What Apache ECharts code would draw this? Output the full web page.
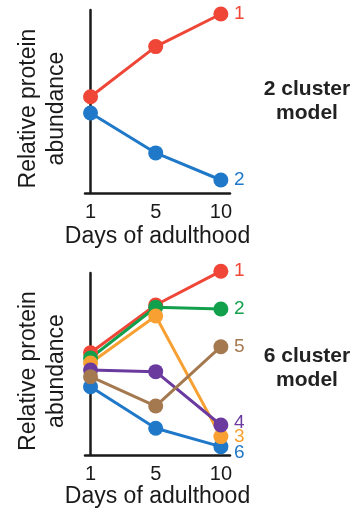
<!DOCTYPE html>
<html>
<head>
<meta charset="utf-8">
<script src="https://cdn.jsdelivr.net/npm/echarts@6/dist/echarts.min.js"></script>
<style>
  html, body { margin: 0; padding: 0; background: #fff; }
  #chart { width: 356px; height: 513px; }
</style>
</head>
<body>
<div id="chart"></div>
<script>
// Time points (days of adulthood), drawn at equal spacing
const days = ['1', '5', '10'];

// 2 cluster model: relative abundance per cluster
const twoCluster1 = [5.26, 8.0, 9.78];
const twoCluster2 = [4.37, 2.19, 0.71];

// 6 cluster model: relative abundance per cluster
const sixCluster1 = [5.62, 8.24, 10.1];
const sixCluster2 = [5.33, 8.12, 8.02];
const sixCluster3 = [5.05, 7.64, 1.01];
const sixCluster4 = [4.67, 4.58, 1.65];
const sixCluster5 = [4.30, 2.69, 5.95];
const sixCluster6 = [3.75, 1.47, 0.46];

const colors = {
  red: '#ef4637',
  blue: '#1f78c8',
  green: '#13a04c',
  orange: '#f8a031',
  purple: '#6a3a9f',
  brown: '#a5794f'
};

const FONT = "'Liberation Sans', Arial, Helvetica, sans-serif";
const axisColor = '#1a1a1a';

function xAxisFor(gridIndex, nameGap) {
  return {
    gridIndex,
    type: 'value',
    min: -0.085,
    max: 2.14,
    name: 'Days of adulthood',
    nameLocation: 'middle',
    nameGap,
    nameTextStyle: { fontFamily: FONT, fontSize: 23, color: '#1a1a1a' },
    axisLine: { show: true, lineStyle: { color: axisColor, width: 2.5 } },
    axisTick: { show: false },
    splitLine: { show: false },
    axisLabel: {
      customValues: [0, 1, 2],
      formatter: v => days[Math.round(v)],
      fontFamily: FONT, fontSize: 20, color: '#1a1a1a', margin: 9
    }
  };
}

function yAxisFor(gridIndex) {
  return {
    gridIndex,
    type: 'value',
    min: 0,
    max: 10,
    name: 'Relative protein\nabundance',
    nameLocation: 'middle',
    nameRotate: 90,
    nameGap: 14,
    nameTextStyle: {
      fontFamily: FONT, fontSize: 23, lineHeight: 28, color: '#1a1a1a',
      padding: [0, 14, 0, 0]
    },
    axisLine: { show: true, lineStyle: { color: axisColor, width: 2.5 } },
    axisTick: { show: false },
    axisLabel: { show: false },
    splitLine: { show: false }
  };
}

function lineSeries(name, values, color, axisIndex, labelOffset) {
  return {
    type: 'line',
    name,
    xAxisIndex: axisIndex,
    yAxisIndex: axisIndex,
    data: values.map((v, i) => [i, v]),
    symbol: 'circle',
    symbolSize: 15,
    clip: false,
    itemStyle: { color },
    lineStyle: { color, width: 3 },
    endLabel: {
      show: true,
      formatter: name,
      color,
      fontFamily: FONT,
      fontSize: 19,
      distance: 13,
      offset: labelOffset || [0, 0]
    },
    emphasis: { disabled: true },
    animation: false
  };
}

const chart = echarts.init(document.getElementById('chart'), null, { renderer: 'canvas' });

chart.setOption({
  backgroundColor: '#ffffff',
  animation: false,
  title: [
    {
      text: '2 cluster\nmodel',
      left: 302, top: 72, textAlign: 'center',
      textStyle: { fontFamily: FONT, fontSize: 21, fontWeight: 'bold', lineHeight: 24, color: '#222' }
    },
    {
      text: '6 cluster\nmodel',
      left: 302, top: 339, textAlign: 'center',
      textStyle: { fontFamily: FONT, fontSize: 21, fontWeight: 'bold', lineHeight: 24, color: '#222' }
    }
  ],
  grid: [
    { left: 85, right: 126, top: 10, bottom: 320, containLabel: false },
    { left: 85, right: 126, top: 273, bottom: 58, containLabel: false }
  ],
  xAxis: [xAxisFor(0, 32), xAxisFor(1, 22)],
  yAxis: [yAxisFor(0), yAxisFor(1)],
  series: [
    lineSeries('1', twoCluster1, colors.red, 0),
    lineSeries('2', twoCluster2, colors.blue, 0),

    lineSeries('1', sixCluster1, colors.red, 1),
    lineSeries('2', sixCluster2, colors.green, 1),
    lineSeries('6', sixCluster6, colors.blue, 1, [0, 6]),
    lineSeries('3', sixCluster3, colors.orange, 1),
    lineSeries('4', sixCluster4, colors.purple, 1, [0, -2]),
    lineSeries('5', sixCluster5, colors.brown, 1)
  ]
});
</script>
</body>
</html>
